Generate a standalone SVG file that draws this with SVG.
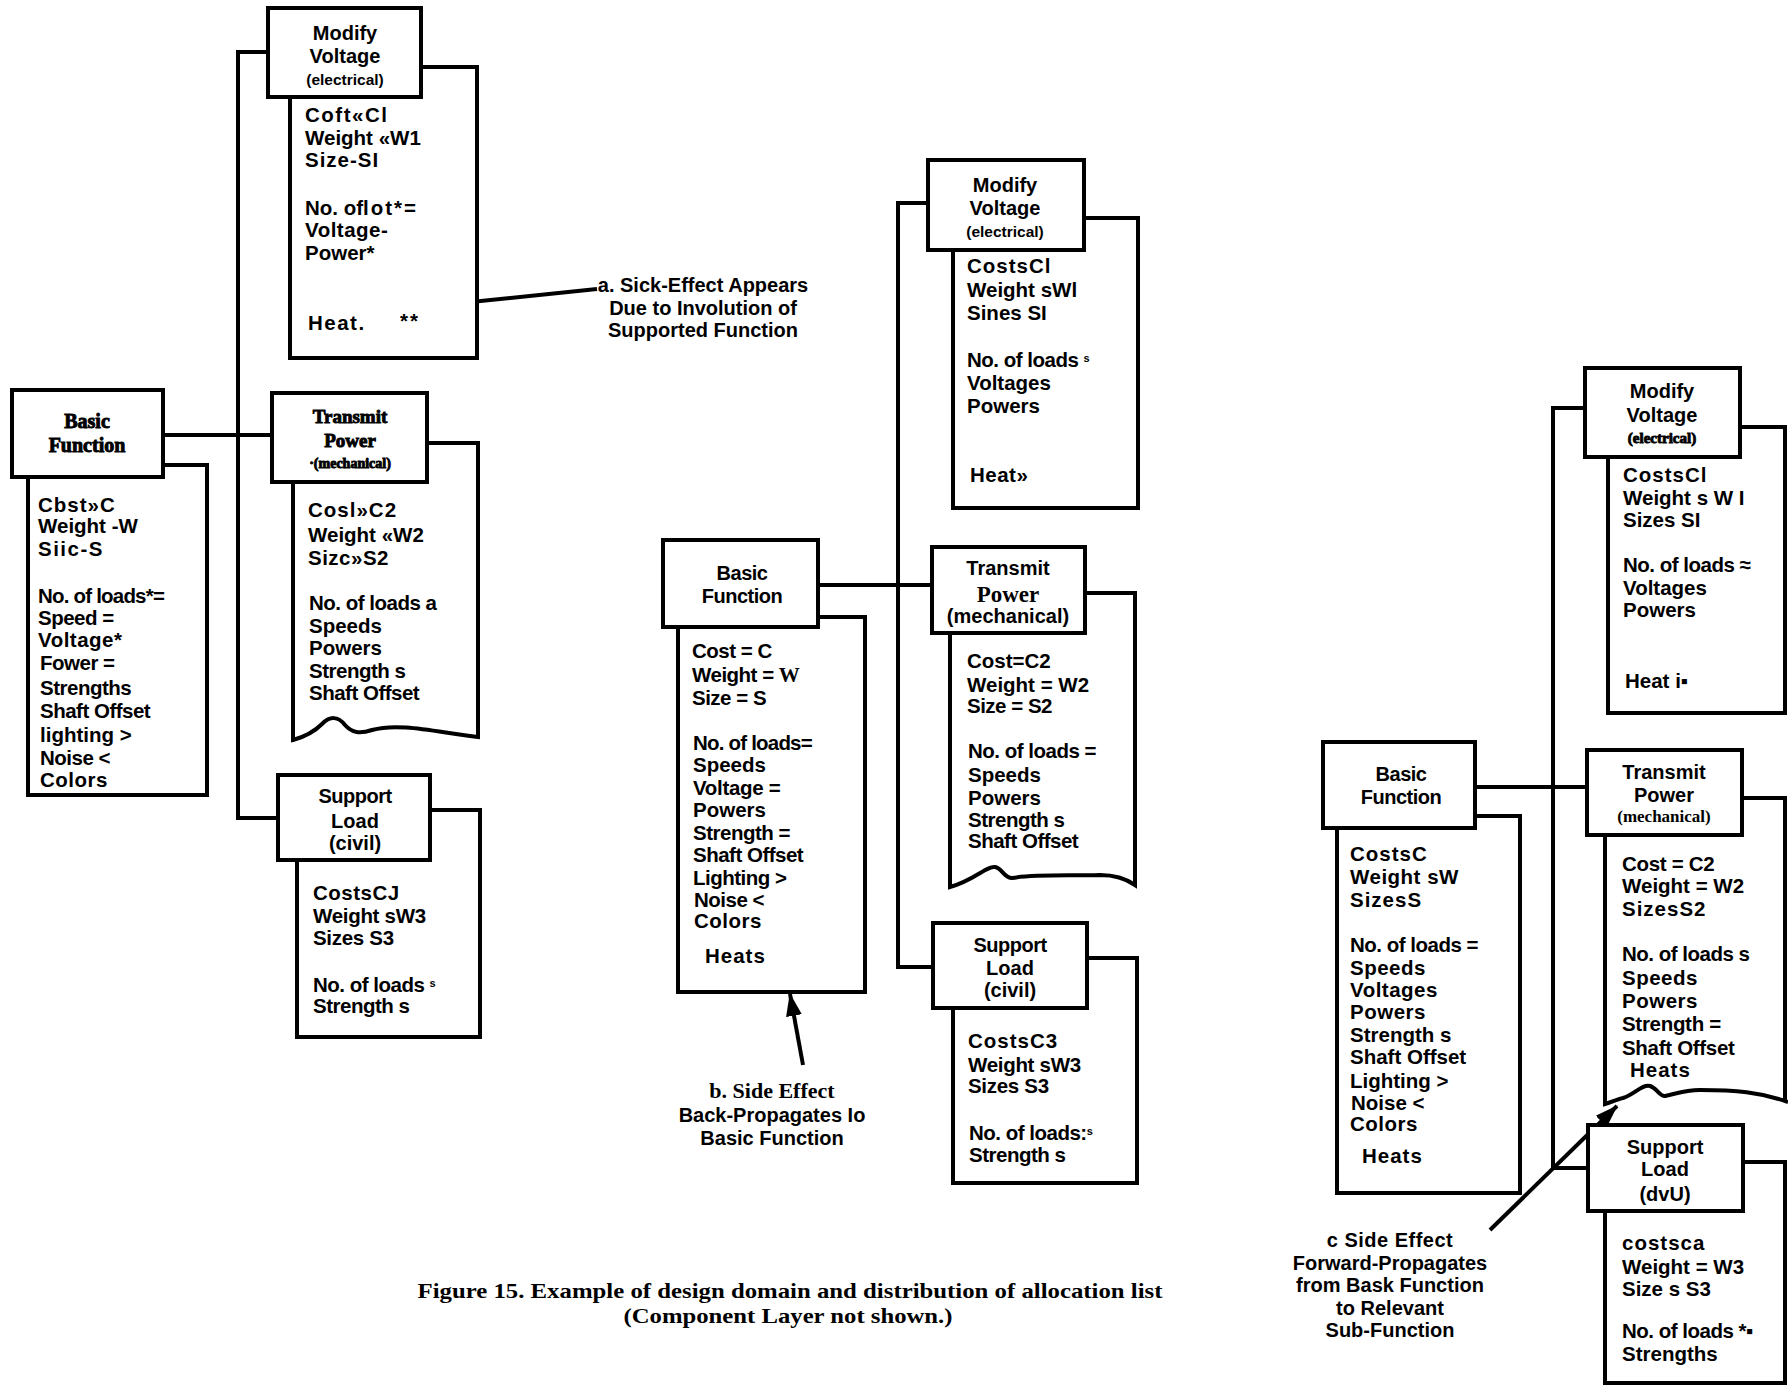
<svg xmlns="http://www.w3.org/2000/svg" width="1788" height="1385" viewBox="0 0 1788 1385">
<defs>
<marker id="ah" markerUnits="userSpaceOnUse" markerWidth="24" markerHeight="18" viewBox="0 0 24 18" refX="22" refY="9" orient="auto">
<path d="M0,1 L23,9 L0,17 Z" fill="#000"/>
</marker>
<style>
.box{fill:#fff;stroke:#000;stroke-width:4}
.doc{fill:#fff;stroke:#000;stroke-width:4;stroke-linejoin:miter}
.con{fill:none;stroke:#000;stroke-width:4}
.t{font-family:"Liberation Sans",Arial,sans-serif;font-weight:bold;font-size:20.5px;fill:#000}
.h{font-family:"Liberation Sans",Arial,sans-serif;font-weight:bold;font-size:20px;text-anchor:middle;fill:#000}
.hs{font-size:15.5px}
.sf{font-family:"Liberation Serif","Times New Roman",serif;font-weight:bold;text-anchor:middle;fill:#000}
.smear{stroke:#000;stroke-width:0.9}
.ann{font-family:"Liberation Sans",Arial,sans-serif;font-weight:bold;font-size:20px;text-anchor:middle;fill:#000}
.cap{font-family:"Liberation Serif","Times New Roman",serif;font-weight:bold;font-size:22px;text-anchor:middle;fill:#000}
</style>
</defs>
<rect width="1788" height="1385" fill="#fff"/>

<g id="connectors">
<path class="con" d="M268,52 H238 V818 H278"/>
<path class="con" d="M163,435 H272"/>
<path class="con" d="M422,307 L597,289" stroke-width="4.5"/>
<path class="con" d="M928,203 H898 V967 H933"/>
<path class="con" d="M818,585 H932"/>
<path class="con" d="M803,1065 L790,994" marker-end="url(#ah)"/>
<path class="con" d="M1585,408 H1553 V1168 H1588"/>
<path class="con" d="M1475,787 H1587"/>
<path class="con" d="M1490,1230 L1617,1106" marker-end="url(#ah)"/>
</g>

<!-- Column a -->
<g id="mv-a">
<path class="doc" d="M421,67 H477 V358 H290 V97"/>
<rect class="box" x="268" y="8" width="153" height="89"/>
<text class="h" x="345" y="40">Modify</text>
<text class="h" x="345" y="63">Voltage</text>
<text class="h hs" x="345" y="85">(electrical)</text>
<text class="t" x="305" y="122" letter-spacing="1.5">Coft«Cl</text>
<text class="t" x="305" y="145">Weight «W1</text>
<text class="t" x="305" y="167" letter-spacing="1">Size-SI</text>
<text class="t" x="305" y="215">No. of<tspan letter-spacing="2">lot*=</tspan></text>
<text class="t" x="305" y="237" letter-spacing="0.5">Voltage-</text>
<text class="t" x="305" y="260">Power*</text>
<text class="t" x="308" y="330" letter-spacing="1.5">Heat.</text>
<text class="t" x="400" y="328" letter-spacing="2">**</text>
</g>

<g id="bf-a">
<path class="doc" d="M163,465 H207 V795 H28 V477"/>
<rect class="box" x="12" y="390" width="151" height="87"/>
<text class="sf smear" x="87" y="428" font-size="20">Basic</text>
<text class="sf smear" x="87" y="452" font-size="20">Function</text>
<text class="t" x="38" y="512" letter-spacing="1">Cbst»C</text>
<text class="t" x="38" y="533">Weight   -W</text>
<text class="t" x="38" y="556" letter-spacing="1.5">Siic-S</text>
<text class="t" x="38" y="603" letter-spacing="-0.8">No. of loads*=</text>
<text class="t" x="38" y="625" letter-spacing="-0.5">Speed =</text>
<text class="t" x="38" y="647" letter-spacing="0.5">Voltage*</text>
<text class="t" x="40" y="670" font-family="Liberation Serif,serif" letter-spacing="-0.5">Fower =</text>
<text class="t" x="40" y="695" letter-spacing="-0.5">Strengths</text>
<text class="t" x="40" y="718" letter-spacing="-0.5">Shaft Offset</text>
<text class="t" x="40" y="742">lighting &gt;</text>
<text class="t" x="40" y="765" letter-spacing="-0.5">Noise &lt;</text>
<text class="t" x="40" y="787" letter-spacing="0.5">Colors</text>
</g>

<g id="tp-a">
<path class="doc" d="M427,443 H478 V737 C440,733 400,722 372,730 C360,734 352,733 345,725 C338,716 330,716 322,724 C314,732 304,737 293,740 V482"/>
<rect class="box" x="272" y="393" width="155" height="89"/>
<text class="sf smear" x="350" y="423" font-size="19">Transmit</text>
<text class="sf smear" x="350" y="447" font-size="19">Power</text>
<text class="sf smear" x="350" y="468" font-size="14">·(mechanical)</text>
<text class="t" x="308" y="517" letter-spacing="1">Cosl»C2</text>
<text class="t" x="308" y="542">Weight «W2</text>
<text class="t" x="308" y="565" letter-spacing="0.5">Sizc»S2</text>
<text class="t" x="309" y="610" letter-spacing="-0.5">No. of loads a</text>
<text class="t" x="309" y="633">Speeds</text>
<text class="t" x="309" y="655">Powers</text>
<text class="t" x="309" y="678" letter-spacing="-0.5">Strength s</text>
<text class="t" x="309" y="700" letter-spacing="-0.5">Shaft Offset</text>
</g>

<g id="sl-a">
<path class="doc" d="M430,810 H480 V1037 H297 V860"/>
<rect class="box" x="278" y="775" width="152" height="85"/>
<text class="h" x="355" y="803" letter-spacing="-0.5">Support</text>
<text class="h" x="355" y="828">Load</text>
<text class="h" x="355" y="850" font-size="17.5">(civil)</text>
<text class="t" x="313" y="900" letter-spacing="0.5">CostsCJ</text>
<text class="t" x="313" y="923" letter-spacing="-0.3">Weight sW3</text>
<text class="t" x="313" y="945" letter-spacing="-0.3">Sizes S3</text>
<text class="t" x="313" y="992" letter-spacing="-0.5">No. of loads <tspan font-size="11" dy="-5">s</tspan></text>
<text class="t" x="313" y="1013" letter-spacing="-0.5">Strength s</text>
</g>

<g id="note-a">
<text class="ann" x="703" y="292">a. Sick-Effect Appears</text>
<text class="ann" x="703" y="315">Due to Involution of</text>
<text class="ann" x="703" y="337">Supported Function</text>
</g>

<!-- Column b -->
<g id="mv-b">
<path class="doc" d="M1084,218 H1138 V508 H953 V250"/>
<rect class="box" x="928" y="160" width="156" height="90"/>
<text class="h" x="1005" y="192">Modify</text>
<text class="h" x="1005" y="215">Voltage</text>
<text class="h hs" x="1005" y="237">(electrical)</text>
<text class="t" x="967" y="273" letter-spacing="1">CostsCl</text>
<text class="t" x="967" y="297">Weight  sWl</text>
<text class="t" x="967" y="320">Sines SI</text>
<text class="t" x="967" y="367" letter-spacing="-0.5">No. of loads <tspan font-size="11" dy="-5">s</tspan></text>
<text class="t" x="967" y="390">Voltages</text>
<text class="t" x="967" y="413">Powers</text>
<text class="t" x="970" y="482" letter-spacing="0.5">Heat»</text>
</g>

<g id="bf-b">
<path class="doc" d="M818,617 H865 V992 H678 V627"/>
<rect class="box" x="663" y="540" width="155" height="87"/>
<text class="h" x="742" y="580" letter-spacing="-0.5">Basic</text>
<text class="h" x="742" y="603" letter-spacing="-0.5">Function</text>
<text class="t" x="692" y="658" letter-spacing="-0.5">Cost = C</text>
<text class="t" x="692" y="682" letter-spacing="-0.5">Weight = <tspan font-family="Liberation Serif,serif" font-size="21">W</tspan></text>
<text class="t" x="692" y="705" letter-spacing="-0.5">Size = S</text>
<text class="t" x="693" y="750" letter-spacing="-0.8">No. of loads=</text>
<text class="t" x="693" y="772">Speeds</text>
<text class="t" x="693" y="795" letter-spacing="-0.3">Voltage =</text>
<text class="t" x="693" y="817">Powers</text>
<text class="t" x="693" y="840" letter-spacing="-0.5">Strength =</text>
<text class="t" x="693" y="862" letter-spacing="-0.5">Shaft Offset</text>
<text class="t" x="693" y="885" letter-spacing="-0.5">Lighting &gt;</text>
<text class="t" x="694" y="907" letter-spacing="-0.5">Noise &lt;</text>
<text class="t" x="694" y="928" letter-spacing="0.5">Colors</text>
<text class="t" x="705" y="963" letter-spacing="1">Heats</text>
</g>

<g id="tp-b">
<path class="doc" d="M1085,593 H1135 V885 C1125,878 1112,875 1100,875 C1070,876 1035,874 1012,878 C1004,878 1002,868 995,867 C986,866 975,880 950,887 V633"/>
<rect class="box" x="932" y="547" width="153" height="86"/>
<text class="h" x="1008" y="575" font-size="18">Transmit</text>
<text class="sf" x="1008" y="602" font-size="23">Power</text>
<text class="h" x="1008" y="623" font-size="16" font-weight="normal">(mechanical)</text>
<text class="t" x="967" y="668">Cost=C2</text>
<text class="t" x="967" y="692">Weight = W2</text>
<text class="t" x="967" y="713" letter-spacing="-0.5">Size = S2</text>
<text class="t" x="968" y="758" letter-spacing="-0.5">No. of loads =</text>
<text class="t" x="968" y="782">Speeds</text>
<text class="t" x="968" y="805">Powers</text>
<text class="t" x="968" y="827" letter-spacing="-0.5">Strength s</text>
<text class="t" x="968" y="848" letter-spacing="-0.5">Shaft Offset</text>
</g>

<g id="sl-b">
<path class="doc" d="M1087,958 H1137 V1183 H953 V1008"/>
<rect class="box" x="933" y="923" width="154" height="85"/>
<text class="h" x="1010" y="952" letter-spacing="-0.5">Support</text>
<text class="h" x="1010" y="975">Load</text>
<text class="h" x="1010" y="997" font-size="17.5">(civil)</text>
<text class="t" x="968" y="1048" letter-spacing="1">CostsC3</text>
<text class="t" x="968" y="1072" letter-spacing="-0.3">Weight sW3</text>
<text class="t" x="968" y="1093" letter-spacing="-0.3">Sizes S3</text>
<text class="t" x="969" y="1140" letter-spacing="-0.5">No. of loads:<tspan font-size="11" dy="-5">s</tspan></text>
<text class="t" x="969" y="1162" letter-spacing="-0.5">Strength s</text>
</g>

<g id="note-b">
<text class="sf" x="772" y="1098" font-size="22">b. Side Effect</text>
<text class="ann" x="772" y="1122">Back-Propagates Io</text>
<text class="ann" x="772" y="1145">Basic Function</text>
</g>

<!-- Column c -->
<g id="mv-c">
<path class="doc" d="M1740,427 H1785 V713 H1608 V457"/>
<rect class="box" x="1585" y="368" width="155" height="89"/>
<text class="h" x="1662" y="398">Modify</text>
<text class="h" x="1662" y="422">Voltage</text>
<text class="sf smear" x="1662" y="443" font-size="15">(electrical)</text>
<text class="t" x="1623" y="482" letter-spacing="1">CostsCl</text>
<text class="t" x="1623" y="505">Weight  s W I</text>
<text class="t" x="1623" y="527">Sizes SI</text>
<text class="t" x="1623" y="572" letter-spacing="-0.5">No. of loads ≈</text>
<text class="t" x="1623" y="595">Voltages</text>
<text class="t" x="1623" y="617">Powers</text>
<text class="t" x="1625" y="688">Heat i▪</text>
</g>

<g id="bf-c">
<path class="doc" d="M1475,816 H1520 V1193 H1337 V828"/>
<rect class="box" x="1323" y="742" width="152" height="86"/>
<text class="h" x="1401" y="781" letter-spacing="-0.5">Basic</text>
<text class="h" x="1401" y="804" letter-spacing="-0.5">Function</text>
<text class="t" x="1350" y="861" letter-spacing="1">CostsC</text>
<text class="t" x="1350" y="884" letter-spacing="0.5">Weight  sW</text>
<text class="t" x="1350" y="907" letter-spacing="1">SizesS</text>
<text class="t" x="1350" y="952" letter-spacing="-0.5">No. of loads =</text>
<text class="t" x="1350" y="975" letter-spacing="0.5">Speeds</text>
<text class="t" x="1350" y="997" letter-spacing="0.5">Voltages</text>
<text class="t" x="1350" y="1019" letter-spacing="0.5">Powers</text>
<text class="t" x="1350" y="1042">Strength s</text>
<text class="t" x="1350" y="1064">Shaft Offset</text>
<text class="t" x="1350" y="1088">Lighting &gt;</text>
<text class="t" x="1351" y="1110">Noise &lt;</text>
<text class="t" x="1350" y="1131" letter-spacing="0.5">Colors</text>
<text class="t" x="1362" y="1163" letter-spacing="1">Heats</text>
</g>

<g id="tp-c">
<path class="doc" d="M1742,798 H1785 V1100 M1605,835 V1104 C1612,1102 1618,1099 1623,1098 C1635,1094 1642,1084 1650,1086 C1657,1088 1660,1097 1665,1096 C1675,1094 1685,1090 1700,1090 C1735,1090 1760,1092 1788,1102"/>
<rect class="box" x="1587" y="750" width="155" height="85"/>
<text class="h" x="1664" y="779">Transmit</text>
<text class="h" x="1664" y="802">Power</text>
<text class="sf" x="1664" y="822" font-size="17">(mechanical)</text>
<text class="t" x="1622" y="871" letter-spacing="-0.3">Cost = C2</text>
<text class="t" x="1622" y="893">Weight = W2</text>
<text class="t" x="1622" y="916" letter-spacing="1">SizesS2</text>
<text class="t" x="1622" y="961" letter-spacing="-0.5">No. of loads s</text>
<text class="t" x="1622" y="985" letter-spacing="0.5">Speeds</text>
<text class="t" x="1622" y="1008" letter-spacing="0.5">Powers</text>
<text class="t" x="1622" y="1031" letter-spacing="-0.3">Strength =</text>
<text class="t" x="1622" y="1055" letter-spacing="-0.3">Shaft Offset</text>
<text class="t" x="1630" y="1077" letter-spacing="1">Heats</text>
</g>

<g id="sl-c">
<path class="doc" d="M1743,1162 H1785 V1383 H1605 V1211"/>
<rect class="box" x="1588" y="1125" width="155" height="86"/>
<text class="h" x="1665" y="1154">Support</text>
<text class="h" x="1665" y="1176">Load</text>
<text class="h" x="1665" y="1201" font-size="17.5">(dvU)</text>
<text class="t" x="1622" y="1250" letter-spacing="1">costsca</text>
<text class="t" x="1622" y="1274">Weight = W3</text>
<text class="t" x="1622" y="1296">Size s S3</text>
<text class="t" x="1622" y="1338" font-size="19.5" letter-spacing="-0.5">No. of loads *▪</text>
<text class="t" x="1622" y="1361" font-size="19.5">Strengths</text>
</g>

<g id="note-c">
<text class="ann" x="1390" y="1247" letter-spacing="0.5">c Side Effect</text>
<text class="ann" x="1390" y="1270">Forward-Propagates</text>
<text class="ann" x="1390" y="1292">from Bask Function</text>
<text class="ann" x="1390" y="1315">to Relevant</text>
<text class="ann" x="1390" y="1337">Sub-Function</text>
</g>

<g id="caption">
<text class="cap" x="790" y="1298" textLength="745" lengthAdjust="spacingAndGlyphs">Figure 15.  Example of design domain and distribution of allocation list</text>
<text class="cap" x="788" y="1323" textLength="329" lengthAdjust="spacingAndGlyphs">(Component Layer not shown.)</text>
</g>
</svg>
